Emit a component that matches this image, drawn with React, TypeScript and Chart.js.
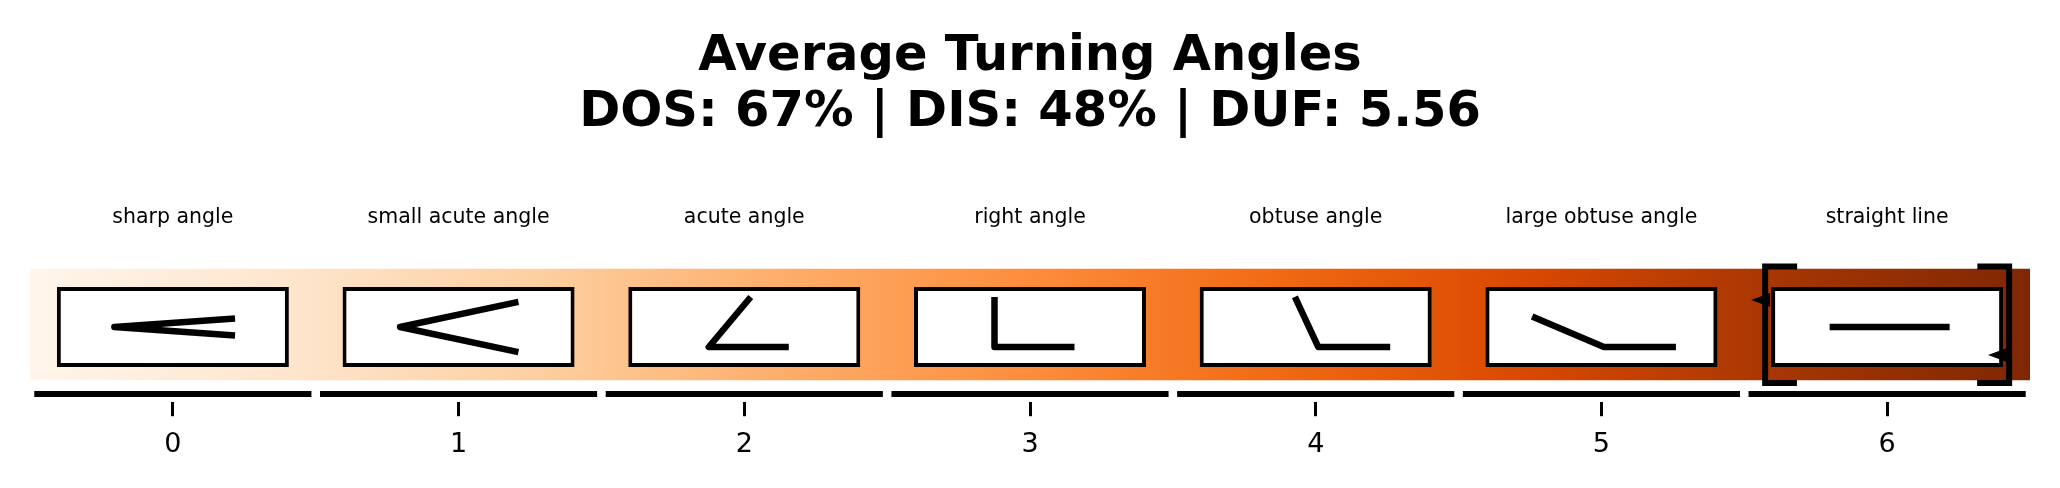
import React, { useEffect, useRef } from 'react';
import { Chart, registerables } from 'chart.js';

Chart.register(...registerables);

// ---------------- data ----------------
const categories = ['0', '1', '2', '3', '4', '5', '6'];
const angleNames = [
  'sharp angle',
  'small acute angle',
  'acute angle',
  'right angle',
  'obtuse angle',
  'large obtuse angle',
  'straight line',
];
const glyphAngles = [8, 24, 50, 90, 115, 157, 180];
const bandSpan: [number, number] = [0, 1];
const boxSpan: [number, number] = [0.117, 0.838];
const baseSpan: [number, number] = [-0.153, -0.099];
const highlightIndex = 6;
const markerXs = [5.524, 6.353];
const markerYs = [0.72, 0.225];
const titleLines = ['Average Turning Angles', 'DOS: 67% | DIS: 48% | DUF: 5.56'];
const nameLevel = 1.414;
const yMin = -0.2;
const yMax = 1.6;

// ---------------- style ----------------
const FONT = "'DejaVu Sans', 'Liberation Sans', sans-serif";
const ORANGES = ['#fff5eb', '#fee6ce', '#fdd0a2', '#fdae6b', '#fd8d3c', '#f16913', '#d94801', '#a63603', '#7f2704'];
const HIGHLIGHT_HALF_WIDTH = 0.427; // in category units
const HIGHLIGHT_Y: [number, number] = [-0.027, 1.022];
const GLYPH_SHIFT = 2.5; // px, the insets sit slightly right of the category centre

function glyphPoints(a: number): [number, number][] {
  const r = (a * Math.PI) / 180;
  if (a >= 180) return [[-60, 0], [60, 0]];
  if (a < 45) {
    const h = r / 2;
    const L = 121;
    const vx = -61;
    return [
      [vx + L * Math.cos(h), -L * Math.sin(h)],
      [vx, 0],
      [vx + L * Math.cos(h), L * Math.sin(h)],
    ];
  }
  const vx = a <= 90 ? -38 : 0;
  const lh = a <= 90 ? 80 : 72;
  const ls = Math.min(78, 50 / Math.sin(r));
  return [
    [vx + ls * Math.cos(r), 20 - ls * Math.sin(r)],
    [vx, 20],
    [vx + lh, 20],
  ];
}

const decorPlugin = {
  id: 'decor',
  afterDatasetsDraw(chart: any) {
    const { ctx } = chart;
    const xs = chart.scales.x;
    const ys = chart.scales.y;
    ctx.save();

    // angle glyphs
    const cy = ys.getPixelForValue((boxSpan[0] + boxSpan[1]) / 2);
    ctx.strokeStyle = '#000';
    ctx.lineWidth = 6.5;
    ctx.lineCap = 'butt';
    ctx.lineJoin = 'round';
    glyphAngles.forEach((a, i) => {
      const cx = xs.getPixelForValue(i) + GLYPH_SHIFT;
      const pts = glyphPoints(a);
      ctx.beginPath();
      pts.forEach(([px, py], k) => {
        if (k === 0) ctx.moveTo(cx + px, cy + py);
        else ctx.lineTo(cx + px, cy + py);
      });
      ctx.stroke();
    });

    // highlight bracket (dashed rectangle)
    ctx.lineJoin = 'miter';
    const x0 = xs.getPixelForValue(highlightIndex - HIGHLIGHT_HALF_WIDTH);
    const x1 = xs.getPixelForValue(highlightIndex + HIGHLIGHT_HALF_WIDTH);
    const yt = ys.getPixelForValue(HIGHLIGHT_Y[1]);
    const yb = ys.getPixelForValue(HIGHLIGHT_Y[0]);
    const w = x1 - x0;
    const h = yb - yt;
    const stub = 32;
    const per = 2 * (w + h);
    const dash = per / 4;
    ctx.lineWidth = 6;
    ctx.setLineDash([dash, dash]);
    ctx.lineDashOffset = dash - stub;
    ctx.beginPath();
    ctx.moveTo(x0, yt);
    ctx.lineTo(x1, yt);
    ctx.lineTo(x1, yb);
    ctx.lineTo(x0, yb);
    ctx.closePath();
    ctx.stroke();
    ctx.setLineDash([]);

    // left-pointing triangle markers
    ctx.fillStyle = '#000';
    markerXs.forEach((mx, i) => {
      const px = xs.getPixelForValue(mx);
      const py = ys.getPixelForValue(markerYs[i]);
      ctx.beginPath();
      ctx.moveTo(px, py);
      ctx.lineTo(px + 19, py - 7);
      ctx.lineTo(px + 19, py + 7);
      ctx.closePath();
      ctx.fill();
    });

    // category names
    ctx.font = `20.5px ${FONT}`;
    ctx.textAlign = 'center';
    ctx.textBaseline = 'alphabetic';
    ctx.fillStyle = '#000';
    const ny = ys.getPixelForValue(nameLevel);
    angleNames.forEach((n, i) => {
      ctx.fillText(n, xs.getPixelForValue(i), ny);
    });

    ctx.restore();
  },
};

export default function App() {
  const ref = useRef<HTMLCanvasElement>(null);

  useEffect(() => {
    document.body.style.margin = '0';
    const canvas = ref.current;
    if (!canvas) return;

    const bandGradient = (c: any) => {
      const chart = c.chart;
      const xs = chart.scales?.x;
      if (!chart.chartArea || !xs) return ORANGES[4];
      const g = chart.ctx.createLinearGradient(
        xs.getPixelForValue(-0.5), 0, xs.getPixelForValue(categories.length - 0.5), 0
      );
      ORANGES.forEach((col, i) => g.addColorStop(i / (ORANGES.length - 1), col));
      return g;
    };

    const chart = new Chart(canvas, {
      type: 'bar',
      data: {
        labels: categories,
        datasets: [
          {
            label: 'base',
            data: categories.map(() => baseSpan),
            backgroundColor: '#000',
            borderWidth: 0,
            barPercentage: 0.97,
            categoryPercentage: 1,
            grouped: false,
            order: 1,
          } as any,
          {
            label: 'boxes',
            data: categories.map(() => boxSpan),
            backgroundColor: '#fff',
            borderColor: '#000',
            borderWidth: 4,
            borderSkipped: false,
            barPercentage: 0.812,
            categoryPercentage: 1,
            grouped: false,
            order: 2,
          } as any,
          {
            label: 'band',
            data: categories.map(() => bandSpan),
            backgroundColor: bandGradient,
            borderWidth: 0,
            barPercentage: 1,
            categoryPercentage: 1,
            grouped: false,
            order: 3,
          } as any,
        ],
      },
      options: {
        responsive: false,
        animation: false,
        devicePixelRatio: 1,
        layout: { padding: { left: 30, right: 30, top: 0, bottom: 14.6 } },
        plugins: {
          legend: { display: false },
          tooltip: { enabled: false },
          title: {
            display: true,
            text: titleLines,
            color: '#000',
            font: { family: FONT, size: 49.5, weight: 'bold', lineHeight: 1.135 },
            padding: { top: 28.6, bottom: 61.4 },
          },
        },
        scales: {
          x: {
            type: 'category',
            offset: true,
            grid: {
              display: true,
              drawOnChartArea: false,
              drawTicks: true,
              tickLength: 14,
              tickWidth: 3,
              tickColor: '#000',
              offset: false,
            },
            border: { display: false },
            ticks: {
              color: '#000',
              padding: 12.4,
              font: { family: FONT, size: 27, lineHeight: 1.2 },
            },
          },
          y: {
            display: false,
            min: yMin,
            max: yMax,
          },
        },
      } as any,
      plugins: [decorPlugin],
    });

    return () => chart.destroy();
  }, []);

  return (
    <canvas
      ref={ref}
      width={2060}
      height={488}
      style={{ display: 'block', width: 2060, height: 488 }}
    />
  );
}
